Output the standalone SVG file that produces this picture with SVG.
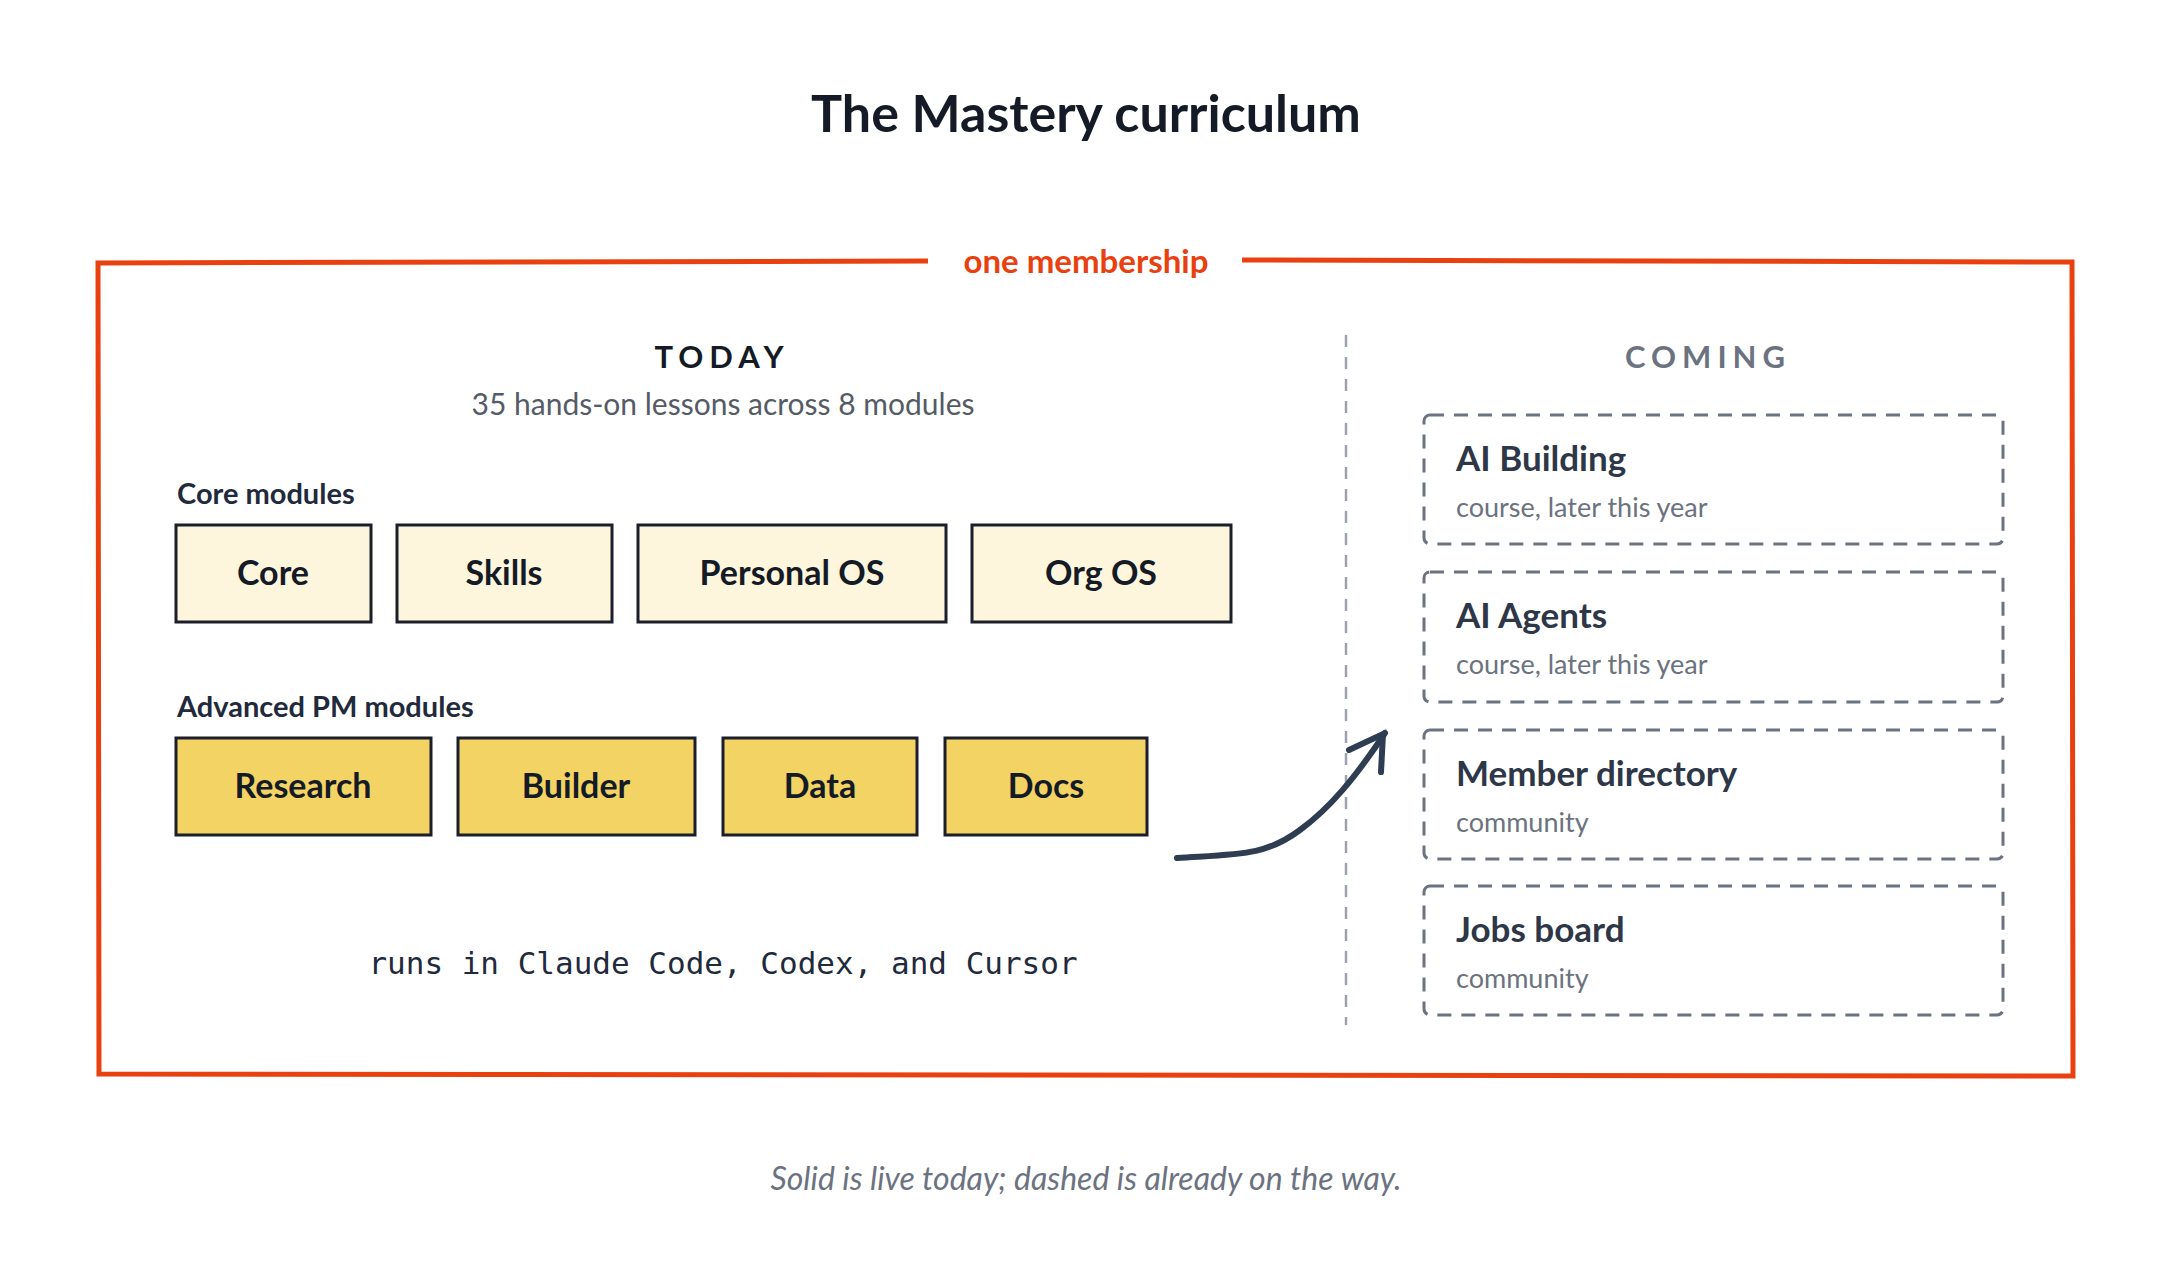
<svg xmlns="http://www.w3.org/2000/svg" width="2160" height="1274" viewBox="0 0 2160 1274">
<style>
text{font-family:Lato,"Noto Sans",sans-serif}
.t{font-size:52px;font-weight:700;fill:#141a26;text-anchor:middle}
.h{font-size:31px;font-weight:700;letter-spacing:6px;text-anchor:middle}
.lbl{font-size:29px;font-weight:700;fill:#1f2a3d}
.bx{stroke:#1a1f2b;stroke-width:3}
.lt{fill:#fdf5dc}
.dk{fill:#f2d364}
.bt{font-size:34px;font-weight:700;fill:#141a26;text-anchor:middle}
.cb{fill:none;stroke:#6b7280;stroke-width:3;stroke-dasharray:14 10}
.ct{font-size:35px;font-weight:700;fill:#2d3748}
.cs{font-size:27px;fill:#6b7280}
</style>
<rect width="2160" height="1274" fill="#fff"/>
<text class="t" x="1086" y="132">The Mastery curriculum</text>
<g id="frame">
<path d="M928 261 L98 263 L99 1074 L2073 1076 L2072 262 L1242 260" fill="none" stroke="#e8410f" stroke-width="5"/>
<text x="1086" y="273" text-anchor="middle" style="font-size:33px;font-weight:700;fill:#e8410f">one membership</text>
</g>
<g id="today">
<text class="h" x="722" y="368" fill="#141a26">TODAY</text>
<text x="723" y="415" text-anchor="middle" style="font-size:30px;fill:#555b66">35 hands-on lessons across 8 modules</text>
<text class="lbl" x="177" y="504">Core modules</text>
<text class="lbl" x="177" y="717">Advanced PM modules</text>
</g>
<g id="core"><rect class="bx lt" x="176" y="525" width="195" height="97"/><text class="bt" x="273" y="585">Core</text></g>
<g id="skills"><rect class="bx lt" x="397" y="525" width="215" height="97"/><text class="bt" x="504" y="585">Skills</text></g>
<g id="personal-os"><rect class="bx lt" x="638" y="525" width="308" height="97"/><text class="bt" x="792" y="585">Personal OS</text></g>
<g id="org-os"><rect class="bx lt" x="972" y="525" width="259" height="97"/><text class="bt" x="1101" y="585">Org OS</text></g>
<g id="research"><rect class="bx dk" x="176" y="738" width="255" height="97"/><text class="bt" x="303" y="798">Research</text></g>
<g id="builder"><rect class="bx dk" x="458" y="738" width="237" height="97"/><text class="bt" x="576" y="798">Builder</text></g>
<g id="data"><rect class="bx dk" x="723" y="738" width="194" height="97"/><text class="bt" x="820" y="798">Data</text></g>
<g id="docs"><rect class="bx dk" x="945" y="738" width="202" height="97"/><text class="bt" x="1046" y="798">Docs</text></g>
<text x="723" y="974" text-anchor="middle" style="font-family:'DejaVu Sans Mono','Liberation Mono',monospace;font-size:31px;fill:#1f2a3d">runs in Claude Code, Codex, and Cursor</text>
<line x1="1346" y1="335" x2="1346" y2="1025" stroke="#9ca3af" stroke-width="2.5" stroke-dasharray="12 10"/>
<text class="h" x="1708" y="368" fill="#6b7280">COMING</text>
<g id="ai-building"><rect class="cb" x="1424" y="415" width="579" height="129" rx="6"/><text class="ct" x="1456" y="471">AI Building</text><text class="cs" x="1456" y="517">course, later this year</text></g>
<g id="ai-agents"><rect class="cb" x="1424" y="572" width="579" height="130" rx="6"/><text class="ct" x="1456" y="628">AI Agents</text><text class="cs" x="1456" y="674">course, later this year</text></g>
<g id="member-directory"><rect class="cb" x="1424" y="730" width="579" height="129" rx="6"/><text class="ct" x="1456" y="786">Member directory</text><text class="cs" x="1456" y="832">community</text></g>
<g id="jobs-board"><rect class="cb" x="1424" y="886" width="579" height="129" rx="6"/><text class="ct" x="1456" y="942">Jobs board</text><text class="cs" x="1456" y="988">community</text></g>
<g id="connectors" fill="none" stroke="#2f3d52" stroke-width="6" stroke-linecap="round">
<path d="M1177 858 C1240 854 1265 856 1300 830 C1330 808 1355 778 1385 733"/>
<path d="M1349 750 L1383 734 L1381 772"/>
</g>
<text x="1086" y="1190" text-anchor="middle" style="font-size:32px;font-style:italic;fill:#6b7280">Solid is live today; dashed is already on the way.</text>
</svg>
